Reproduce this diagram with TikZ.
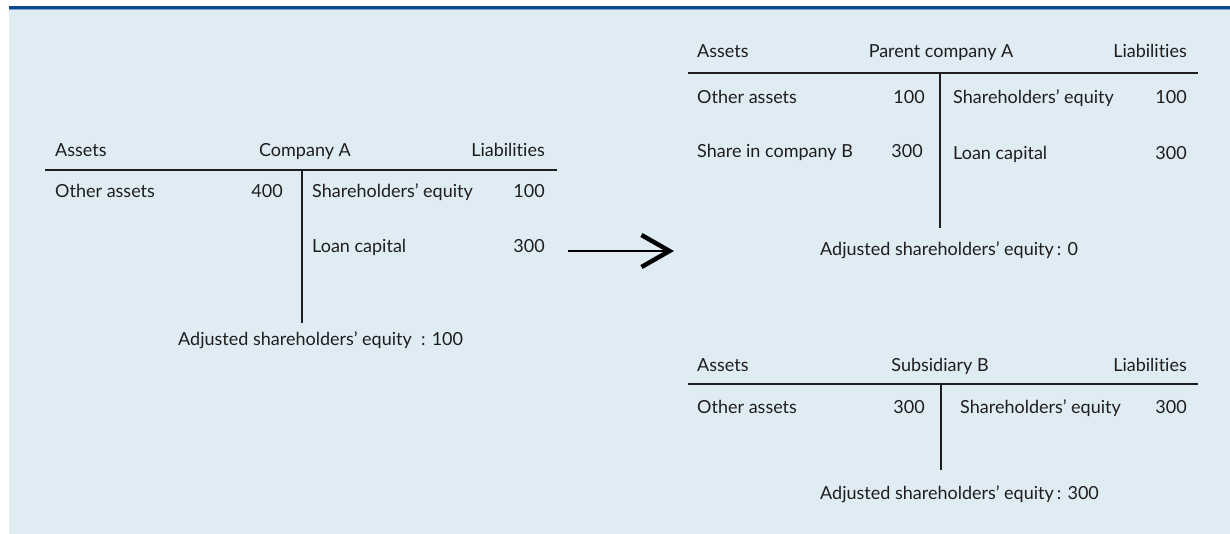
\documentclass[tikz,border=0pt]{standalone}
\usepackage{fontspec}
\setmainfont{Lato}[Ligatures={NoCommon}]
\usetikzlibrary{arrows.meta}
\definecolor{bgblue}{RGB}{224,236,243}
\definecolor{topblue}{RGB}{12,72,140}
\definecolor{toplight}{RGB}{120,165,210}
\definecolor{txt}{RGB}{30,30,30}
\tikzset{
  lbl/.style={inner sep=0pt, text=txt, font=\fontsize{18}{21}\selectfont},
  lw/.style={lbl, anchor=base west},
  le/.style={lbl, anchor=base east},
  lc/.style={lbl, anchor=base},
  rule/.style={draw=txt, line width=1.5pt},
}
\begin{document}
\begin{tikzpicture}[x=1pt,y=-1pt]
\useasboundingbox (0,0) rectangle (1230,534);
\fill[bgblue] (9,7) rectangle (1230,534);
\draw[toplight, line width=1pt] (9,10) -- (1230,10);
\draw[topblue, line width=3pt] (9,7.5) -- (1230,7.5);

% Left account: Company A
\node[lw] (a-as) at (55,157) {Assets};
\node[lc] (a-ti) at (305,157) {Company A};
\node[le] (a-li) at (545,157) {Liabilities};
\coordinate (a-hl) at (45,170);
\coordinate (a-hr) at (557,170);
\coordinate (a-vt) at (302,170);
\coordinate (a-vb) at (302,323);
\draw[rule] (a-hl) -- (a-hr);
\draw[rule] (a-vt) -- (a-vb);
\node[lw] (a-oa) at (55,198) {Other assets};
\node[le] (a-oan) at (283,198) {400};
\node[lw] (a-se) at (312,198) {Shareholders’ equity};
\node[le] (a-sen) at (545,198) {100};
\node[lw] (a-lc) at (312,253) {Loan capital};
\node[le] (a-lcn) at (545,253) {300};
\node[lw] (a-adj) at (178,345) {Adjusted shareholders’ equity~~: 100};

% Arrow
\coordinate (arr-s) at (568,251);
\coordinate (arr-e) at (674,251);
\draw[line width=2.5pt, -{Straight Barb[length=28pt,width=32pt,line width=4.5pt]}] (arr-s) -- (arr-e);

% Parent company A
\node[lw] (p-as) at (697,58) {Assets};
\node[lc] (p-ti) at (941,58) {Parent company A};
\node[le] (p-li) at (1187,58) {Liabilities};
\coordinate (p-hl) at (688,73);
\coordinate (p-hr) at (1198,73);
\coordinate (p-vt) at (940,73);
\coordinate (p-vb) at (940,228);
\draw[rule] (p-hl) -- (p-hr);
\draw[rule] (p-vt) -- (p-vb);
\node[lw] (p-oa) at (697,104) {Other assets};
\node[le] (p-oan) at (925,104) {100};
\node[lw] (p-se) at (953,104) {Shareholders’ equity};
\node[le] (p-sen) at (1187,104) {100};
\node[lw] (p-sb) at (697,158) {Share in company B};
\node[le] (p-sbn) at (923,158) {300};
\node[lw] (p-lc) at (953,160) {Loan capital};
\node[le] (p-lcn) at (1187,160) {300};
\node[lw] (p-adj) at (820,256) {Adjusted shareholders’ equity\,: 0};

% Subsidiary B
\node[lw] (s-as) at (697,371) {Assets};
\node[lc] (s-ti) at (940,371) {Subsidiary B};
\node[le] (s-li) at (1187,371) {Liabilities};
\coordinate (s-hl) at (688,384);
\coordinate (s-hr) at (1198,384);
\coordinate (s-vt) at (941,384);
\coordinate (s-vb) at (941,470);
\draw[rule] (s-hl) -- (s-hr);
\draw[rule] (s-vt) -- (s-vb);
\node[lw] (s-oa) at (697,413) {Other assets};
\node[le] (s-oan) at (925,413) {300};
\node[lw] (s-se) at (960,413) {Shareholders’ equity};
\node[le] (s-sen) at (1187,413) {300};
\node[lw] (s-adj) at (820,499) {Adjusted shareholders’ equity\,: 300};
\end{tikzpicture}
\end{document}
